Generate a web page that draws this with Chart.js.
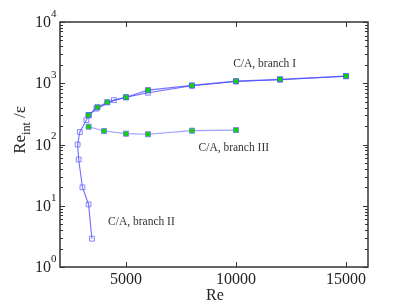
<!DOCTYPE html>
<html><head><meta charset="utf-8">
<script src="https://cdn.jsdelivr.net/npm/chart.js@4.4.1/dist/chart.umd.min.js"></script>
<style>html,body{margin:0;padding:0;background:#fff}#wrap{width:407px;height:306px}</style>
</head><body><div id="wrap"><canvas id="c" width="407" height="306"></canvas></div>
<script>
// Blue open squares: branch II (bottom) continuing into branch I
const blueRe  = [3450, 3300, 3020, 2850, 2800, 2900, 3200, 3300, 3650, 4450, 5000, 6000, 8000, 10000, 12000, 15000];
const blueVal = [2.9, 10.5, 20, 57, 100, 160, 250, 300, 385, 530, 590, 700, 910, 1070, 1140, 1300];
// Green filled squares: branch I
const brIRe  = [3300, 3700, 4150, 5000, 6000, 8000, 10000, 12000, 15000];
const brIVal = [302, 405, 489, 590, 770, 920, 1080, 1160, 1310];
// Green filled squares: branch III
const brIIIRe  = [3300, 4000, 5000, 6000, 8000, 10000];
const brIIIVal = [195, 166, 150, 147, 168, 172];
const xTicks = [5000, 10000, 15000];
const yTickExp = [0, 1, 2, 3, 4];
const labels = [
  {text: 'C/A, branch I', x: 11300, y: 2060},
  {text: 'C/A, branch III', x: 9900, y: 88},
  {text: 'C/A, branch II', x: 5700, y: 5.4}
];

const pts = (xs, ys) => xs.map((x, i) => ({x: x, y: ys[i]}));

const axesPlugin = {
  id: 'axesPlugin',
  afterDraw(chart) {
    const ctx = chart.ctx, a = chart.chartArea;
    const xs = chart.scales.x, ys = chart.scales.y;
    ctx.save();
    ctx.strokeStyle = '#333';
    ctx.lineWidth = 1.5;
    ctx.strokeRect(a.left, a.top, a.right - a.left, a.bottom - a.top);
    ctx.lineWidth = 1;
    ctx.beginPath();
    for (let e = 0; e <= 4; e++) {
      for (let m = 1; m <= 9; m++) {
        const v = m * Math.pow(10, e);
        if (v > 10000) break;
        const py = Math.round(ys.getPixelForValue(v)) + 0.5;
        const len = (m === 1) ? 5 : 3;
        ctx.moveTo(a.left, py); ctx.lineTo(a.left + len, py);
        ctx.moveTo(a.right, py); ctx.lineTo(a.right - len, py);
      }
    }
    xTicks.forEach(t => {
      const px = Math.round(xs.getPixelForValue(t)) + 0.5;
      ctx.moveTo(px, a.bottom); ctx.lineTo(px, a.bottom - 5);
      ctx.moveTo(px, a.top); ctx.lineTo(px, a.top + 5);
    });
    ctx.stroke();

    ctx.fillStyle = '#222';
    ctx.font = '16px "Liberation Serif", serif';
    ctx.textAlign = 'center'; ctx.textBaseline = 'middle';
    xTicks.forEach(t => ctx.fillText(String(t), xs.getPixelForValue(t), a.bottom + 13));
    ctx.font = '16px "Liberation Serif", serif';
    ctx.fillText('Re', (a.left + a.right) / 2 + 1, a.bottom + 29);
    yTickExp.forEach(e => {
      const py = ys.getPixelForValue(Math.pow(10, e));
      ctx.font = '16px "Liberation Serif", serif';
      ctx.textAlign = 'right'; ctx.textBaseline = 'middle';
      ctx.fillText('10', a.left - 9, py + 1);
      ctx.font = '11px "Liberation Serif", serif';
      ctx.textAlign = 'left';
      ctx.fillText(String(e), a.left - 9, py - 8);
    });
    ctx.translate(20, 130);
    ctx.rotate(-Math.PI / 2);
    ctx.textBaseline = 'alphabetic';
    ctx.textAlign = 'left';
    ctx.font = '17px "Liberation Serif", serif';
    const w1 = ctx.measureText('Re').width;
    ctx.font = '12px "Liberation Serif", serif';
    const w2 = ctx.measureText('int').width;
    ctx.font = '17px "Liberation Serif", serif';
    const w3 = ctx.measureText(' /ε').width;
    let x0 = -(w1 + w2 + w3) / 2;
    ctx.fillText('Re', x0, 5);
    ctx.font = '12px "Liberation Serif", serif';
    ctx.fillText('int', x0 + w1, 10);
    ctx.font = '17px "Liberation Serif", serif';
    ctx.fillText(' /ε', x0 + w1 + w2, 5);
    ctx.restore();

    ctx.save();
    ctx.fillStyle = '#333';
    ctx.font = '11.5px "Liberation Serif", serif';
    ctx.textAlign = 'center'; ctx.textBaseline = 'middle';
    labels.forEach(l => ctx.fillText(l.text, xs.getPixelForValue(l.x), ys.getPixelForValue(l.y)));
    ctx.restore();
  }
};

new Chart(document.getElementById('c'), {
  type: 'scatter',
  data: {
    datasets: [
      {
        data: pts(brIRe, brIVal), showLine: true,
        borderColor: 'rgba(70,70,255,0.75)', borderWidth: 1.2,
        pointStyle: 'rect', pointRadius: 3.6, pointBorderWidth: 1,
        pointBackgroundColor: '#10d010', pointBorderColor: 'rgba(90,90,255,0.8)'
      },
      {
        data: pts(brIIIRe, brIIIVal), showLine: true,
        borderColor: 'rgba(120,120,255,0.7)', borderWidth: 1.2,
        pointStyle: 'rect', pointRadius: 3.6, pointBorderWidth: 1,
        pointBackgroundColor: '#10d010', pointBorderColor: 'rgba(120,120,255,0.8)'
      },
      {
        data: pts(blueRe, blueVal), showLine: true,
        borderColor: 'rgba(60,60,255,0.75)', borderWidth: 1.1,
        pointStyle: 'rect', pointRadius: 3.4, pointBorderWidth: 1,
        pointBackgroundColor: 'rgba(255,255,255,0)', pointBorderColor: 'rgba(110,110,255,0.85)'
      }
    ]
  },
  options: {
    responsive: false, animation: false,
    layout: {padding: {left: 60, right: 39, top: 22, bottom: 39}},
    plugins: {legend: {display: false}, tooltip: {enabled: false}},
    scales: {
      x: {type: 'linear', min: 2000, max: 16000, display: false},
      y: {type: 'logarithmic', min: 1, max: 10000, display: false}
    }
  },
  plugins: [axesPlugin]
});
</script></body></html>
